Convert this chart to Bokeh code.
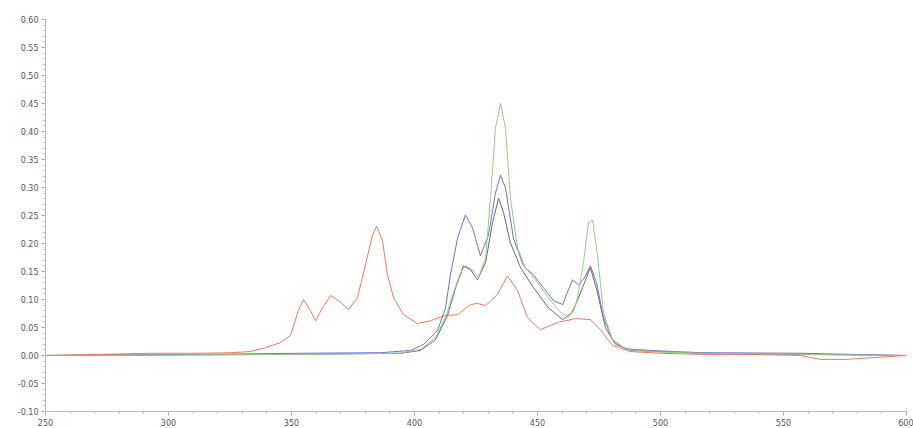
from bokeh.plotting import figure
from bokeh.models import Range1d, FixedTicker, CustomJSTickFormatter
from bokeh.embed import file_html
from bokeh.resources import INLINE

# x tick labels (wavelength axis) and y ticks
x_ticks = [250, 300, 350, 400, 450, 500, 550, 600]
y_ticks = [-0.10, -0.05, 0.00, 0.05, 0.10, 0.15, 0.20, 0.25, 0.30, 0.35, 0.40, 0.45, 0.50, 0.55, 0.60]

red_x = [250, 272.4, 292.7, 313.0, 325.2, 333.3, 339.4, 345.5, 349.6, 352.8, 354.9, 357.7, 359.8, 362.6,
         365.9, 369.1, 373.2, 376.8, 380.1, 382.9, 384.6, 387.0, 389.0, 391.5, 395.5, 401.2, 406.5, 411.8,
         417.5, 422.8, 425.6, 428.9, 433.7, 437.8, 441.9, 445.9, 451.2, 458.1, 465.4, 471.5, 475.6, 480.5,
         487.8, 500.0, 516.3, 536.6, 556.9, 565.0, 575.2, 585.4, 600.0]
red_y = [0.000, 0.002, 0.004, 0.004, 0.005, 0.007, 0.014, 0.023, 0.036, 0.080, 0.100, 0.080, 0.062, 0.085,
         0.107, 0.098, 0.082, 0.103, 0.162, 0.215, 0.231, 0.205, 0.144, 0.103, 0.073, 0.057, 0.062, 0.071,
         0.073, 0.091, 0.093, 0.089, 0.109, 0.142, 0.116, 0.068, 0.046, 0.059, 0.066, 0.064, 0.046, 0.018,
         0.007, 0.004, 0.002, 0.002, 0.000, -0.007, -0.007, -0.004, 0.000]

blue_x = [250, 313.0, 353.7, 386.2, 398.4, 403.7, 409.4, 412.6, 414.6, 417.5, 420.7, 423.6, 426.8, 430.1,
          432.9, 435.0, 437.0, 440.2, 444.3, 448.4, 452.4, 456.5, 460.2, 464.2, 466.7, 469.1, 471.5, 474.0,
          476.8, 480.5, 485.8, 495.9, 516.3, 556.9, 600.0]
blue_y = [0.000, 0.002, 0.004, 0.005, 0.009, 0.020, 0.045, 0.085, 0.144, 0.210, 0.251, 0.228, 0.178, 0.215,
          0.290, 0.322, 0.299, 0.210, 0.160, 0.144, 0.121, 0.098, 0.091, 0.135, 0.126, 0.139, 0.160, 0.130,
          0.068, 0.028, 0.012, 0.009, 0.005, 0.004, 0.000]

green_x = [250, 353.7, 394.3, 402.4, 408.5, 412.6, 415.4, 418.7, 420.7, 423.6, 426.0, 428.9, 430.9, 432.9,
           435.0, 437.0, 439.0, 441.9, 445.1, 449.2, 454.5, 459.4, 462.6, 465.9, 468.7, 470.7, 472.4, 474.4,
           476.8, 480.5, 485.8, 495.9, 516.3, 600.0]
green_y = [0.000, 0.002, 0.004, 0.011, 0.032, 0.068, 0.107, 0.148, 0.160, 0.153, 0.139, 0.174, 0.281, 0.406,
           0.450, 0.406, 0.281, 0.192, 0.157, 0.135, 0.103, 0.077, 0.068, 0.094, 0.166, 0.237, 0.242, 0.178,
           0.077, 0.027, 0.011, 0.007, 0.004, 0.000]

gray_x = [250, 353.7, 394.3, 402.4, 408.5, 413.4, 416.7, 419.9, 422.8, 425.6, 428.9, 431.7, 434.2, 436.2,
          439.0, 443.1, 448.4, 454.5, 460.2, 464.2, 468.3, 471.5, 474.4, 477.6, 481.7, 487.8, 516.3, 600.0]
gray_y = [0.000, 0.002, 0.004, 0.009, 0.028, 0.071, 0.121, 0.160, 0.153, 0.135, 0.166, 0.237, 0.281, 0.255,
          0.201, 0.157, 0.121, 0.085, 0.064, 0.077, 0.121, 0.157, 0.112, 0.050, 0.020, 0.009, 0.004, 0.000]

p = figure(width=913, height=428, output_backend="svg", toolbar_location=None,
           x_range=Range1d(250, 600), y_range=Range1d(-0.10, 0.60),
           min_border_left=45, min_border_right=7, min_border_top=19, min_border_bottom=17)
p.outline_line_color = None
p.xgrid.visible = False
p.ygrid.visible = False

p.line(gray_x, gray_y, line_color="#6a6a6a", line_width=1)
p.line(blue_x, blue_y, line_color="#7070d4", line_width=1)
p.line(green_x, green_y, line_color="#94cc88", line_width=1)
p.line(red_x, red_y, line_color="#f27858", line_width=1)

x_minor = [v for v in range(250, 601, 10)]
y_minor = [round(-0.10 + i * 0.01, 2) for i in range(71)]
p.xaxis.ticker = FixedTicker(ticks=x_ticks, minor_ticks=x_minor)
p.yaxis.ticker = FixedTicker(ticks=y_ticks, minor_ticks=y_minor)
p.yaxis.formatter = CustomJSTickFormatter(code="return tick.toFixed(2);")

for ax in (p.xaxis, p.yaxis):
    ax.axis_line_color = "#b8b8b8"
    ax.major_tick_line_color = "#a0a0a0"
    ax.minor_tick_line_color = "#b8b8b8"
    ax.major_tick_out = 4
    ax.major_tick_in = 0
    ax.minor_tick_out = 2
    ax.minor_tick_in = 0
    ax.major_label_text_font_size = "8px"
    ax.major_label_text_color = "#555555"
    ax.major_label_text_font = "DejaVu Sans"
    ax.major_label_standoff = 3

open("out.html", "w").write(file_html(p, INLINE))
